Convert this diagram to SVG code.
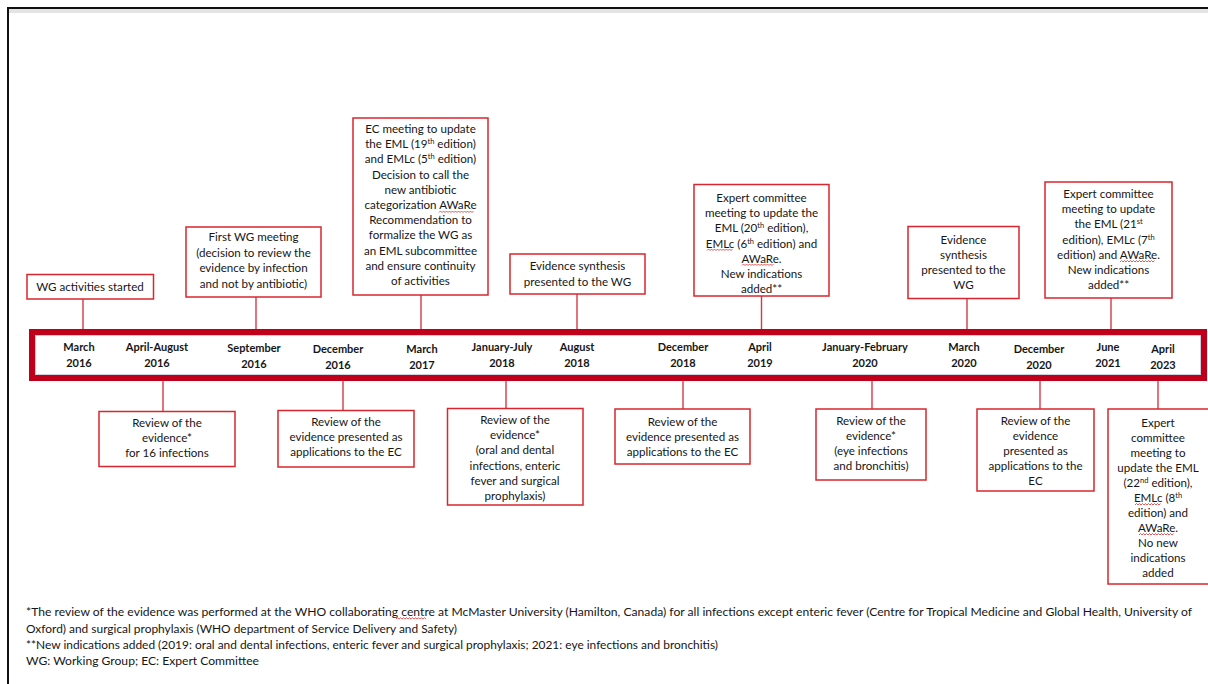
<svg xmlns="http://www.w3.org/2000/svg" width="1208" height="684" viewBox="0 0 1208 684">
<style>
.box{fill:#fff;stroke:#d8262e;stroke-width:1.5}
.t{font-family:Lato,"Open Sans","Liberation Sans",sans-serif;font-size:11.6px;fill:#161616;text-anchor:middle}
.d{font-family:Lato,"Open Sans","Liberation Sans",sans-serif;font-size:11px;font-weight:bold;fill:#161616;text-anchor:middle}
.fn{font-family:Lato,"Open Sans","Liberation Sans",sans-serif;font-size:10.5px;fill:#161616}
.c{stroke:#d33a48;stroke-width:1.4;fill:none}
.sq{stroke:#e03030;stroke-width:0.8;fill:none}
.sup{font-size:7.5px}
</style>
<rect x="0" y="0" width="1208" height="684" fill="#fff"/>
<rect x="8" y="8" width="1212" height="690" fill="#fff" stroke="#111" stroke-width="2"/>
<rect x="9" y="9" width="1200" height="4" fill="#e4e4e4"/>

<g id="connectors">
<line class="c" x1="83" y1="299" x2="83" y2="330"/>
<line class="c" x1="256" y1="297" x2="256" y2="330"/>
<line class="c" x1="421" y1="295" x2="421" y2="330"/>
<line class="c" x1="577" y1="294" x2="577" y2="330"/>
<line class="c" x1="761.5" y1="296" x2="761.5" y2="330"/>
<line class="c" x1="967" y1="298.5" x2="967" y2="330"/>
<line class="c" x1="1111" y1="298" x2="1111" y2="330"/>
<line class="c" x1="163" y1="380" x2="163" y2="411"/>
<line class="c" x1="343" y1="380" x2="343" y2="410"/>
<line class="c" x1="506" y1="380" x2="506" y2="408"/>
<line class="c" x1="683" y1="380" x2="683" y2="409"/>
<line class="c" x1="872" y1="380" x2="872" y2="409"/>
<line class="c" x1="1040" y1="380" x2="1040" y2="409"/>
<line class="c" x1="1158" y1="380" x2="1158" y2="409"/>
</g>

<g id="timeline">
<rect x="32" y="332" width="1172" height="46" fill="#fff" stroke="#c0001b" stroke-width="6"/>
<rect x="35.5" y="335.5" width="1165" height="39" fill="none" stroke="#cfd0dc" stroke-width="1"/>
<text class="d" x="79" y="351">March<tspan x="79" y="367">2016</tspan></text>
<text class="d" x="157" y="351">April-August<tspan x="157" y="367">2016</tspan></text>
<text class="d" x="254" y="352">September<tspan x="254" y="368">2016</tspan></text>
<text class="d" x="338" y="353">December<tspan x="338" y="369">2016</tspan></text>
<text class="d" x="422" y="353">March<tspan x="422" y="369">2017</tspan></text>
<text class="d" x="502" y="351">January-July<tspan x="502" y="367">2018</tspan></text>
<text class="d" x="577" y="351">August<tspan x="577" y="367">2018</tspan></text>
<text class="d" x="683" y="351">December<tspan x="683" y="367">2018</tspan></text>
<text class="d" x="760" y="351">April<tspan x="760" y="367">2019</tspan></text>
<text class="d" x="865" y="351">January-February<tspan x="865" y="367">2020</tspan></text>
<text class="d" x="964" y="351">March<tspan x="964" y="367">2020</tspan></text>
<text class="d" x="1039" y="353">December<tspan x="1039" y="369">2020</tspan></text>
<text class="d" x="1108" y="351">June<tspan x="1108" y="367">2021</tspan></text>
<text class="d" x="1163" y="353">April<tspan x="1163" y="369">2023</tspan></text>
</g>

<g id="top1">
<rect class="box" x="27" y="274.5" width="126.5" height="24.5"/>
<text class="t" x="90" y="291">WG activities started</text>
</g>

<g id="top2">
<rect class="box" x="186" y="227" width="135" height="70"/>
<text class="t" x="253.5" y="241">First WG meeting</text>
<text class="t" x="253.5" y="257">(decision to review the</text>
<text class="t" x="253.5" y="272">evidence by infection</text>
<text class="t" x="253.5" y="288">and not by antibiotic)</text>
</g>

<g id="top3">
<rect class="box" x="353" y="118" width="135" height="177"/>
<text class="t" x="420.5" y="133">EC meeting to update</text>
<text class="t" x="420.5" y="148.2">the EML (19<tspan class="sup" dy="-4">th</tspan><tspan dy="4">  edition)</tspan></text>
<text class="t" x="420.5" y="163.4">and EMLc (5<tspan class="sup" dy="-4">th</tspan><tspan dy="4"> edition)</tspan></text>
<text class="t" x="420.5" y="178.6">Decision to call the</text>
<text class="t" x="420.5" y="193.8">new antibiotic</text>
<text class="t" x="420.5" y="209">categorization AWaRe</text>
<text class="t" x="420.5" y="224.2">Recommendation to</text>
<text class="t" x="420.5" y="239.4">formalize the WG as</text>
<text class="t" x="420.5" y="254.6">an EML subcommittee</text>
<text class="t" x="420.5" y="269.8">and ensure continuity</text>
<text class="t" x="420.5" y="285">of activities</text>
<path class="sq" d="M439 212.5 l1.5 -1.5 l1.5 1.5 l1.5 -1.5 l1.5 1.5 l1.5 -1.5 l1.5 1.5 l1.5 -1.5 l1.5 1.5 l1.5 -1.5 l1.5 1.5 l1.5 -1.5 l1.5 1.5 l1.5 -1.5 l1.5 1.5 l1.5 -1.5 l1.5 1.5 l1.5 -1.5 l1.5 1.5 l1.5 -1.5 l1.5 1.5 l1.5 -1.5 l1.5 1.5 l1.5 -1.5"/>
</g>

<g id="top4">
<rect class="box" x="510" y="254" width="135" height="40"/>
<text class="t" x="577.5" y="270">Evidence synthesis</text>
<text class="t" x="577.5" y="286">presented to the WG</text>
</g>

<g id="top5">
<rect class="box" x="694" y="184.5" width="135" height="111.5"/>
<text class="t" x="761.5" y="202">Expert committee</text>
<text class="t" x="761.5" y="217.2">meeting to update the</text>
<text class="t" x="761.5" y="232.4">EML (20<tspan class="sup" dy="-4">th</tspan><tspan dy="4">  edition),</tspan></text>
<text class="t" x="761.5" y="247.6">EMLc (6<tspan class="sup" dy="-4">th</tspan><tspan dy="4"> edition) and</tspan></text>
<text class="t" x="761.5" y="262.8">AWaRe.</text>
<text class="t" x="761.5" y="278">New indications</text>
<text class="t" x="761.5" y="293">added**</text>
<path class="sq" d="M707 250.5 l1.5 -1.5 l1.5 1.5 l1.5 -1.5 l1.5 1.5 l1.5 -1.5 l1.5 1.5 l1.5 -1.5 l1.5 1.5 l1.5 -1.5 l1.5 1.5 l1.5 -1.5 l1.5 1.5 l1.5 -1.5 l1.5 1.5 l1.5 -1.5 l1.5 1.5 l1.5 -1.5"/>
<path class="sq" d="M742 265.5 l1.5 -1.5 l1.5 1.5 l1.5 -1.5 l1.5 1.5 l1.5 -1.5 l1.5 1.5 l1.5 -1.5 l1.5 1.5 l1.5 -1.5 l1.5 1.5 l1.5 -1.5 l1.5 1.5 l1.5 -1.5 l1.5 1.5 l1.5 -1.5 l1.5 1.5 l1.5 -1.5 l1.5 1.5 l1.5 -1.5 l1.5 1.5 l1.5 -1.5"/>
</g>

<g id="top6">
<rect class="box" x="908" y="226.5" width="111" height="72"/>
<text class="t" x="963.5" y="244">Evidence</text>
<text class="t" x="963.5" y="259">synthesis</text>
<text class="t" x="963.5" y="274">presented to the</text>
<text class="t" x="963.5" y="289">WG</text>
</g>

<g id="top7">
<rect class="box" x="1045" y="182" width="127" height="116"/>
<text class="t" x="1108.5" y="198">Expert committee</text>
<text class="t" x="1108.5" y="213.2">meeting to update</text>
<text class="t" x="1108.5" y="228.4">the EML (21<tspan class="sup" dy="-4">st</tspan></text>
<text class="t" x="1108.5" y="243.6">edition), EMLc  (7<tspan class="sup" dy="-4">th</tspan></text>
<text class="t" x="1108.5" y="258.8">edition) and AWaRe.</text>
<text class="t" x="1108.5" y="274">New indications</text>
<text class="t" x="1108.5" y="289">added**</text>
<path class="sq" d="M1120 262 l1.5 -1.5 l1.5 1.5 l1.5 -1.5 l1.5 1.5 l1.5 -1.5 l1.5 1.5 l1.5 -1.5 l1.5 1.5 l1.5 -1.5 l1.5 1.5 l1.5 -1.5 l1.5 1.5 l1.5 -1.5 l1.5 1.5 l1.5 -1.5 l1.5 1.5 l1.5 -1.5 l1.5 1.5 l1.5 -1.5 l1.5 1.5 l1.5 -1.5 l1.5 1.5 l1.5 -1.5"/>
</g>

<g id="bottom1">
<rect class="box" x="99" y="411.5" width="136" height="55"/>
<text class="t" x="167" y="427">Review of the</text>
<text class="t" x="167" y="442">evidence*</text>
<text class="t" x="167" y="457">for 16 infections</text>
</g>

<g id="bottom2">
<rect class="box" x="278" y="410.5" width="136" height="56.5"/>
<text class="t" x="346" y="426">Review of the</text>
<text class="t" x="346" y="441">evidence presented as</text>
<text class="t" x="346" y="456">applications to the EC</text>
</g>

<g id="bottom3">
<rect class="box" x="447.5" y="408.5" width="135.5" height="96.5"/>
<text class="t" x="515" y="424">Review of the</text>
<text class="t" x="515" y="439.2">evidence*</text>
<text class="t" x="515" y="454.4">(oral and dental</text>
<text class="t" x="515" y="469.6">infections, enteric</text>
<text class="t" x="515" y="484.8">fever and surgical</text>
<text class="t" x="515" y="500">prophylaxis)</text>
</g>

<g id="bottom4">
<rect class="box" x="615" y="409" width="135" height="55"/>
<text class="t" x="682.5" y="426">Review of the</text>
<text class="t" x="682.5" y="441">evidence presented as</text>
<text class="t" x="682.5" y="456">applications to the EC</text>
</g>

<g id="bottom5">
<rect class="box" x="816" y="409" width="110" height="71"/>
<text class="t" x="871" y="425">Review of the</text>
<text class="t" x="871" y="440">evidence*</text>
<text class="t" x="871" y="455">(eye infections</text>
<text class="t" x="871" y="470">and bronchitis)</text>
</g>

<g id="bottom6">
<rect class="box" x="977" y="409" width="117" height="82"/>
<text class="t" x="1035.5" y="425">Review of the</text>
<text class="t" x="1035.5" y="440">evidence</text>
<text class="t" x="1035.5" y="455">presented as</text>
<text class="t" x="1035.5" y="470">applications to the</text>
<text class="t" x="1035.5" y="485">EC</text>
</g>

<g id="bottom7">
<rect class="box" x="1108" y="409" width="102" height="175"/>
<text class="t" x="1158" y="427">Expert</text>
<text class="t" x="1158" y="442">committee</text>
<text class="t" x="1158" y="457">meeting to</text>
<text class="t" x="1158" y="472">update the EML</text>
<text class="t" x="1158" y="487">(22<tspan class="sup" dy="-4">nd</tspan><tspan dy="4">  edition),</tspan></text>
<text class="t" x="1158" y="502">EMLc (8<tspan class="sup" dy="-4">th</tspan></text>
<text class="t" x="1158" y="517">edition) and</text>
<text class="t" x="1158" y="532">AWaRe.</text>
<text class="t" x="1158" y="547">No new</text>
<text class="t" x="1158" y="562">indications</text>
<text class="t" x="1158" y="577">added</text>
<path class="sq" d="M1135 505 l1.5 -1.5 l1.5 1.5 l1.5 -1.5 l1.5 1.5 l1.5 -1.5 l1.5 1.5 l1.5 -1.5 l1.5 1.5 l1.5 -1.5 l1.5 1.5 l1.5 -1.5 l1.5 1.5 l1.5 -1.5 l1.5 1.5 l1.5 -1.5 l1.5 1.5 l1.5 -1.5"/>
<path class="sq" d="M1139 535 l1.5 -1.5 l1.5 1.5 l1.5 -1.5 l1.5 1.5 l1.5 -1.5 l1.5 1.5 l1.5 -1.5 l1.5 1.5 l1.5 -1.5 l1.5 1.5 l1.5 -1.5 l1.5 1.5 l1.5 -1.5 l1.5 1.5 l1.5 -1.5 l1.5 1.5 l1.5 -1.5 l1.5 1.5 l1.5 -1.5 l1.5 1.5 l1.5 -1.5 l1.5 1.5 l1.5 -1.5"/>
</g>

<g id="footnotes">
<text class="fn" x="26" y="616" textLength="1166" lengthAdjust="spacingAndGlyphs">*The review of the evidence was performed at the WHO collaborating centre at McMaster University (Hamilton, Canada) for all infections except enteric fever (Centre for Tropical Medicine and Global Health, University of</text>
<text class="fn" x="26" y="633" textLength="431" lengthAdjust="spacingAndGlyphs">Oxford) and surgical prophylaxis (WHO department of Service Delivery and Safety)</text>
<text class="fn" x="26" y="649" textLength="692" lengthAdjust="spacingAndGlyphs">**New indications added (2019: oral and dental infections, enteric fever and surgical prophylaxis; 2021: eye infections and bronchitis)</text>
<text class="fn" x="26" y="665" textLength="233" lengthAdjust="spacingAndGlyphs">WG: Working Group; EC: Expert Committee</text>
<path class="sq" d="M396 619 l1.5 -1.2 l1.5 1.2 l1.5 -1.2 l1.5 1.2 l1.5 -1.2 l1.5 1.2 l1.5 -1.2 l1.5 1.2 l1.5 -1.2 l1.5 1.2 l1.5 -1.2 l1.5 1.2 l1.5 -1.2 l1.5 1.2 l1.5 -1.2 l1.5 1.2 l1.5 -1.2 l1.5 1.2 l1.5 -1.2 l1.5 1.2"/>
</g>
</svg>
